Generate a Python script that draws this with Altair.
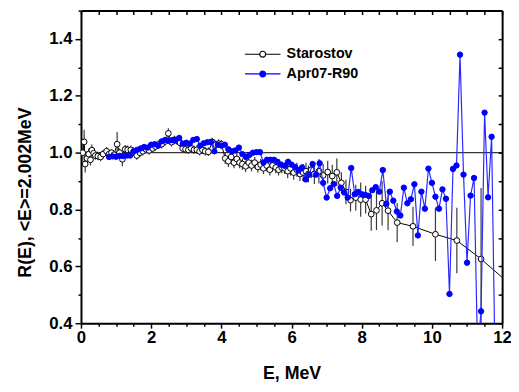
import altair as alt
import pandas as pd

series_names = ["Starostov", "Apr07-R90"]

star_e = [0.05, 0.09, 0.12, 0.17, 0.22, 0.27, 0.31, 0.36, 0.41, 0.48, 0.56, 0.63, 0.73, 0.80, 0.87, 0.94,
          1.03, 1.10, 1.18, 1.26, 1.33, 1.42, 1.50, 1.59, 1.68, 1.76, 1.85, 1.94, 2.04, 2.12, 2.20, 2.30,
          2.40, 2.49, 2.58, 2.66, 2.74, 2.82, 2.90, 2.98, 3.06, 3.14, 3.22, 3.30, 3.38, 3.46, 3.54, 3.63,
          3.74, 3.84, 3.92, 4.00, 4.11, 4.20, 4.28, 4.36, 4.44, 4.52, 4.60, 4.69, 4.78, 4.86, 4.95, 5.04,
          5.12, 5.20, 5.29, 5.38, 5.46, 5.55, 5.63, 5.72, 5.80, 5.89, 5.97, 6.06, 6.15, 6.24, 6.33, 6.41,
          6.48, 6.56, 6.65, 6.78, 6.90, 7.03, 7.16, 7.29, 7.42, 7.55, 7.68, 7.83, 7.97, 8.11, 8.27, 8.42,
          8.58, 8.75, 9.01, 9.46, 10.10, 10.71, 11.40, 12.30]
star_r = [1.000, 1.038, 0.960, 0.980, 0.995, 0.975, 1.009, 0.998, 0.990, 0.988, 0.985, 0.995, 1.005, 0.995, 1.000, 0.993,
          1.030, 1.000, 0.977, 1.012, 1.010, 1.010, 1.003, 0.990, 1.000, 1.005, 1.012, 1.008, 1.015, 1.022, 1.028, 1.030,
          1.040, 1.068, 1.037, 1.045, 1.042, 1.035, 1.015, 1.012, 1.010, 1.015, 1.010, 1.010, 1.005, 1.010, 1.005, 1.003,
          1.038, 1.028, 1.032, 1.030, 0.980, 0.970, 0.985, 0.965, 0.978, 0.965, 0.960, 0.952, 0.965, 0.955, 0.965, 0.950,
          0.958, 0.945, 0.955, 0.940, 0.955, 0.948, 0.940, 0.948, 0.945, 0.935, 0.945, 0.930, 0.940, 0.925, 0.930, 0.935,
          0.925, 0.940, 0.925, 0.935, 0.920, 0.932, 0.918, 0.931, 0.894, 0.862, 0.833, 0.842, 0.835, 0.835, 0.784, 0.797,
          0.822, 0.796, 0.754, 0.741, 0.713, 0.691, 0.626, 0.529]
star_err = [0.030, 0.043, 0.030, 0.025, 0.020, 0.020, 0.020, 0.015, 0.015, 0.015, 0.015, 0.015, 0.015, 0.015, 0.012, 0.012,
            0.043, 0.015, 0.025, 0.015, 0.015, 0.015, 0.015, 0.015, 0.015, 0.015, 0.015, 0.015, 0.015, 0.015, 0.015, 0.015,
            0.015, 0.018, 0.015, 0.015, 0.015, 0.015, 0.015, 0.015, 0.015, 0.015, 0.015, 0.015, 0.015, 0.015, 0.015, 0.015,
            0.015, 0.015, 0.015, 0.015, 0.020, 0.020, 0.020, 0.020, 0.020, 0.020, 0.020, 0.020, 0.020, 0.020, 0.020, 0.020,
            0.020, 0.020, 0.020, 0.020, 0.020, 0.020, 0.020, 0.020, 0.020, 0.025, 0.025, 0.025, 0.025, 0.025, 0.030, 0.030,
            0.030, 0.030, 0.035, 0.043, 0.040, 0.040, 0.040, 0.049, 0.037, 0.043, 0.040, 0.045, 0.060, 0.049, 0.059, 0.069,
            0.078, 0.069, 0.069, 0.069, 0.094, 0.115, 0.250, 0.000]

apr_e = [0.8, 0.9, 1.0, 1.1, 1.2, 1.3, 1.4, 1.5, 1.6, 1.7, 1.8, 1.9, 2.0, 2.1, 2.2, 2.3, 2.4, 2.5, 2.6, 2.7,
         2.8, 2.9, 3.0, 3.1, 3.2, 3.3, 3.4, 3.5, 3.6, 3.7, 3.8, 3.9, 4.0, 4.1, 4.2, 4.3, 4.4, 4.5, 4.6, 4.7,
         4.8, 4.9, 5.0, 5.1, 5.2, 5.3, 5.4, 5.5, 5.6, 5.7, 5.8, 5.9, 6.0, 6.1, 6.2, 6.3, 6.4, 6.5, 6.6, 6.7,
         6.8, 6.9, 7.0, 7.1, 7.2, 7.3, 7.4, 7.5, 7.6, 7.7, 7.8, 7.9, 8.0, 8.1, 8.2, 8.3, 8.4, 8.5, 8.6, 8.7,
         8.8, 8.9, 9.0, 9.1, 9.2, 9.3, 9.4, 9.5, 9.6, 9.7, 9.8, 9.9, 10.0, 10.1, 10.2, 10.3, 10.4, 10.5, 10.6, 10.7,
         10.8, 10.9, 11.0, 11.1, 11.2, 11.3, 11.4, 11.5, 11.6, 11.7, 11.8]
apr_r = [0.985, 0.987, 0.986, 0.989, 0.988, 0.990, 0.990, 1.005, 1.010, 1.015, 1.020, 1.018, 1.028, 1.030, 1.025, 1.040, 1.045, 1.042, 1.044, 1.045,
         1.052, 1.032, 1.035, 1.032, 1.045, 1.048, 1.025, 1.033, 1.037, 1.038, 1.005, 1.028, 1.025, 1.028, 1.012, 1.005, 1.008, 1.018, 0.995, 0.985,
         0.992, 1.000, 1.002, 1.002, 0.965, 0.975, 0.975, 0.975, 0.968, 0.958, 0.954, 0.968, 0.958, 0.950, 0.937, 0.948, 0.906, 0.923, 0.960, 0.923,
         0.963, 0.894, 0.842, 0.875, 0.890, 0.848, 0.877, 0.860, 0.842, 0.946, 0.854, 0.862, 0.854, 0.852, 0.848, 0.868, 0.879, 0.863, 0.939, 0.820,
         0.863, 0.831, 0.793, 0.779, 0.877, 0.822, 0.836, 0.889, 0.709, 0.863, 0.803, 0.944, 0.894, 0.845, 0.803, 0.871, 0.838, 0.503, 0.943, 0.955,
         1.345, 0.923, 0.613, 0.849, 0.911, 0.300, 0.442, 1.141, 0.843, 1.056, 0.250]

ref_e = [0, 12]
ref_r = [1.0, 1.0]

x_ticks = [0, 0.5, 1, 1.5, 2, 2.5, 3, 3.5, 4, 4.5, 5, 5.5, 6, 6.5, 7, 7.5, 8, 8.5, 9, 9.5, 10, 10.5, 11, 11.5, 12]
y_ticks = [0.4, 0.5, 0.6, 0.7, 0.8, 0.9, 1.0, 1.1, 1.2, 1.3, 1.4, 1.5]

star = pd.DataFrame({"E": star_e, "R": star_r, "err": star_err})
star["lo"] = star["R"] - star["err"]
star["hi"] = star["R"] + star["err"]
star["series"] = series_names[0]
apr = pd.DataFrame({"E": apr_e, "R": apr_r})
apr["series"] = series_names[1]
ref = pd.DataFrame({"E": ref_e, "R": ref_r})

FONT = "Liberation Sans"
xs = alt.Scale(domain=[0, 12], nice=False, zero=False)
ys = alt.Scale(domain=[0.4, 1.5], nice=False, zero=False)
fill_scale = alt.Scale(domain=series_names, range=["#ffffff", "#0000ff"])
stroke_scale = alt.Scale(domain=series_names, range=["#000000", "#0000ff"])

x_main = alt.Axis(
    orient="bottom", values=x_ticks, format=".0f",
    labelExpr="datum.value % 2 == 0 ? datum.label : ''",
    tickSize={"condition": {"test": "datum.value % 2 == 0", "value": 5}, "value": 3},
    tickWidth=1.5, tickColor="black", domainColor="black", domainWidth=2,
    labelFont=FONT, labelFontSize=17, labelFontWeight="bold", labelColor="black",
    labelPadding=2, labelOverlap=False, labelFlush=False, grid=False,
    title="E, MeV", titleFont=FONT, titleFontSize=18, titleFontWeight="bold",
    titleColor="black", titlePadding=19,
)
y_main = alt.Axis(
    orient="left", values=y_ticks, format=".1f",
    labelExpr="round(datum.value * 10) % 2 == 0 ? datum.label : ''",
    tickSize={"condition": {"test": "round(datum.value * 10) % 2 == 0", "value": 6}, "value": 3},
    tickWidth=1.5, tickColor="black", domainColor="black", domainWidth=2,
    labelFont=FONT, labelFontSize=17, labelFontWeight="bold", labelColor="black",
    labelPadding=3, labelOverlap=False, labelFlush=False, grid=False,
    title="R(E), <E>=2.002MeV", titleFont=FONT, titleFontSize=18, titleFontWeight="bold",
    titleColor="black", titlePadding=15, titleY=184,
)
x_top = alt.Axis(
    orient="top", values=x_ticks, labels=False, title="", grid=False,
    tickSize={"expr": "-4"}, tickWidth=1.5, tickColor="black",
    domainColor="black", domainWidth=2,
)
y_right = alt.Axis(
    orient="right", values=y_ticks, labels=False, title="", grid=False,
    tickSize={"expr": "-4"}, tickWidth=1.5, tickColor="black",
    domainColor="black", domainWidth=2,
)

LEG_PATH = "M-3.6,0L-0.6,0M0.6,0L3.6,0M-0.6,0A0.6,0.6,0,1,0,0.6,0A0.6,0.6,0,1,0,-0.6,0Z"
legend = alt.Legend(
    title=None, orient="none", legendX=177, legendY=37, padding=0,
    symbolType=LEG_PATH, symbolSize=100, symbolStrokeWidth=1.2,
    labelFont=FONT, labelFontSize=14.5, labelFontWeight="bold", labelColor="black",
    labelOffset=17, rowPadding=5,
)

ref_layer = alt.Chart(ref).mark_line(color="black", strokeWidth=1).encode(
    x=alt.X("E:Q", scale=xs, axis=x_top),
    y=alt.Y("R:Q", scale=ys, axis=y_right),
)

err_layer = alt.Chart(star).mark_rule(color="#3a3a3a", strokeWidth=1.2, clip=True).encode(
    x=alt.X("E:Q", scale=xs, axis=x_main),
    y=alt.Y("lo:Q", scale=ys, axis=y_main),
    y2="hi:Q",
)

star_line = alt.Chart(star).mark_line(color="black", strokeWidth=1, clip=True).encode(
    x=alt.X("E:Q", scale=xs, axis=None),
    y=alt.Y("R:Q", scale=ys, axis=None),
)
star_pts = alt.Chart(star).mark_point(filled=True, size=34, strokeWidth=1, opacity=1, clip=True).encode(
    x=alt.X("E:Q", scale=xs, axis=None),
    y=alt.Y("R:Q", scale=ys, axis=None),
    color=alt.Color("series:N", scale=fill_scale, legend=legend),
    stroke=alt.Stroke("series:N", scale=stroke_scale, legend=legend),
)
apr_line = alt.Chart(apr).mark_line(color="#2a2aff", strokeWidth=1.2, clip=True).encode(
    x=alt.X("E:Q", scale=xs, axis=None),
    y=alt.Y("R:Q", scale=ys, axis=None),
)
apr_pts = alt.Chart(apr).mark_point(filled=True, size=30, strokeWidth=1, opacity=1, clip=True).encode(
    x=alt.X("E:Q", scale=xs, axis=None),
    y=alt.Y("R:Q", scale=ys, axis=None),
    color=alt.Color("series:N", scale=fill_scale, legend=legend),
    stroke=alt.Stroke("series:N", scale=stroke_scale, legend=legend),
)

chart = alt.layer(
    ref_layer, err_layer, star_line, star_pts, apr_line, apr_pts
).resolve_axis(
    x="independent", y="independent"
).properties(
    width=427, height=317,
    autosize=alt.AutoSizeParams(type="none"),
    padding={"left": 74, "top": 0, "right": 9, "bottom": 60},
).configure_view(
    stroke=None
).configure(
    background="white"
)

chart.save("out.html", embed_options={"renderer": "svg", "actions": False})
